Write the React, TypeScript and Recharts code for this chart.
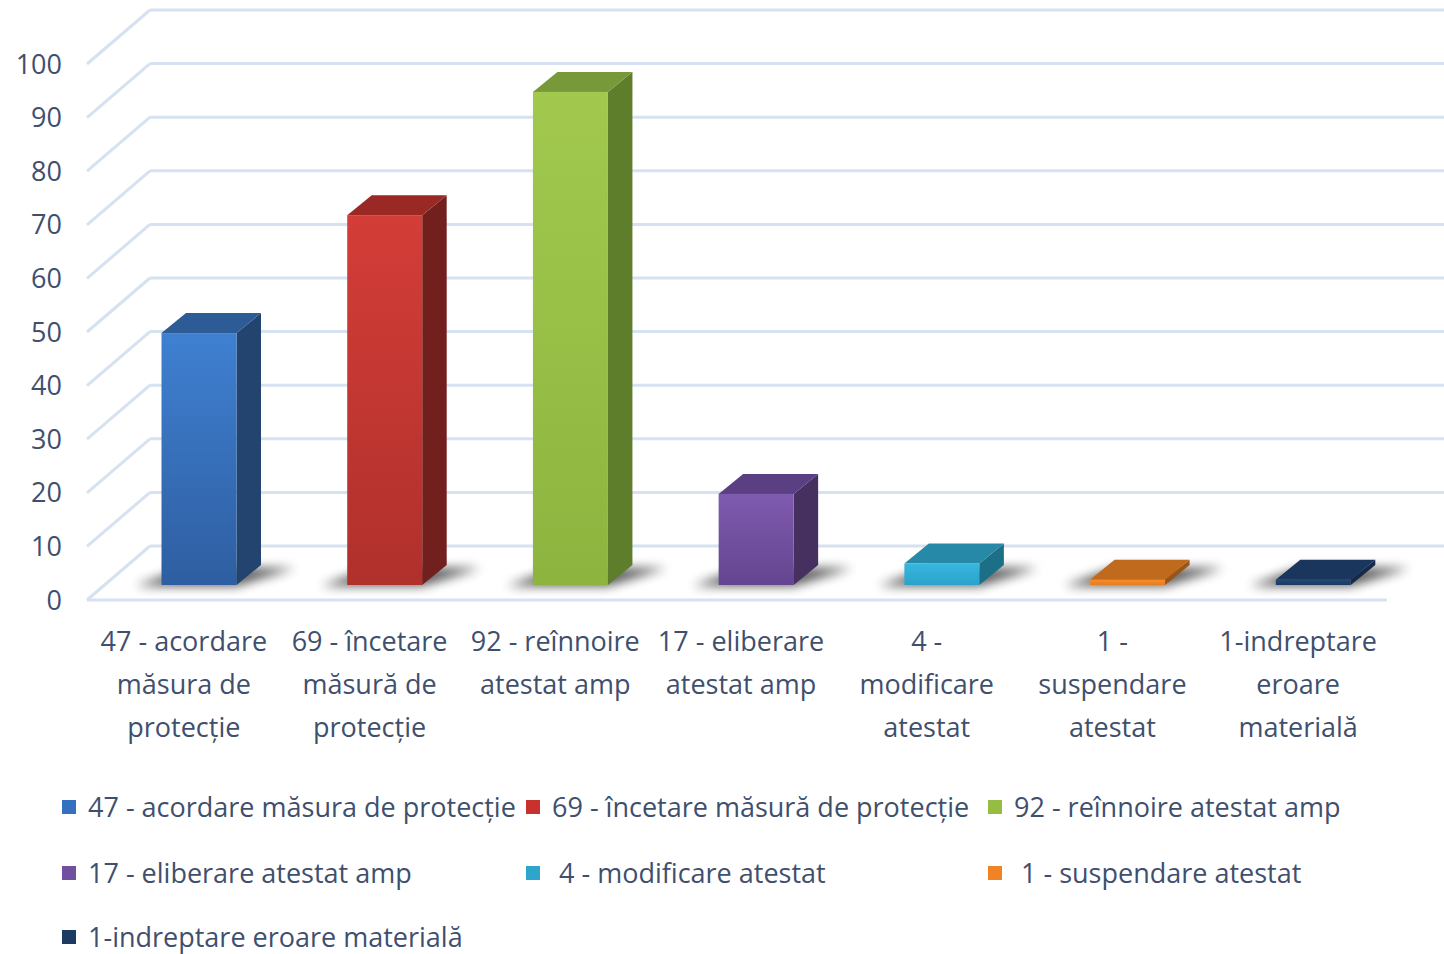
import React from 'react';
import { BarChart, Bar, XAxis, YAxis, CartesianGrid, Legend } from 'recharts';

// ---------- data ----------
const categories = [
  '47 - acordare măsura de protecție',
  '69 - încetare măsură de protecție',
  '92 - reînnoire atestat amp',
  '17 - eliberare atestat amp',
  ' 4 - modificare atestat',
  ' 1 - suspendare atestat',
  '1-indreptare eroare materială',
];
const values = [47, 69, 92, 17, 4, 1, 1];
const axisLabelLines = [
  ['47 - acordare', 'măsura de', 'protecție'],
  ['69 - încetare', 'măsură de', 'protecție'],
  ['92 - reînnoire', 'atestat amp'],
  ['17 - eliberare', 'atestat amp'],
  ['4 -', 'modificare', 'atestat'],
  ['1 -', 'suspendare', 'atestat'],
  ['1-indreptare', 'eroare', 'materială'],
];
const yTicks = [0, 10, 20, 30, 40, 50, 60, 70, 80, 90, 100];

// ---------- styles ----------
const palette = [
  { front: ['#3f80d1', '#2e5ea1'], top: '#2c5b96', side: '#23446f', legend: '#3470bf' },
  { front: ['#d43d38', '#b0302b'], top: '#9a2926', side: '#72201d', legend: '#c8312d' },
  { front: ['#a2c94e', '#8db43e'], top: '#77993a', side: '#5f7e2b', legend: '#94bd42' },
  { front: ['#7f5aaf', '#644590'], top: '#5b3f83', side: '#45305f', legend: '#7250a0' },
  { front: ['#38b7de', '#2aa3c9'], top: '#2589a7', side: '#1d6f88', legend: '#2ea6cc' },
  { front: ['#f68e2d', '#e47d20'], top: '#c06a1d', side: '#9a5417', legend: '#f08424' },
  { front: ['#244773', '#1c3a61'], top: '#1a365c', side: '#142a48', legend: '#1c3a62' },
];
const TEXT = '#3f4f6e';
const FONT = '"Open Sans", "Noto Sans", sans-serif';
const FS = 27;
const GRID = '#d6e2f1';

const W = 1444;
const H = 954;
const WALL_DX = 63;
const WALL_DY = 54;
const BAR_OFF_X = 19.5;
const BAR_OFF_Y = 15;
const BAR_DX = 24.5;
const BAR_DY = 20;
const PLOT_BOTTOM = 600;

const data = categories.map((name, i) => ({ name, value: values[i] }));

const gridLine = (props: any) => {
  const { x1, y1, x2, index } = props;
  const isFloor = Math.abs(y1 - PLOT_BOTTOM) < 1;
  return (
    <g key={'grid-' + index}>
      <line x1={x1} y1={y1} x2={x1 + WALL_DX} y2={y1 - WALL_DY} stroke={GRID} strokeWidth={3} />
      <line x1={x1 + WALL_DX} y1={y1 - WALL_DY} x2={x2 + WALL_DX} y2={y1 - WALL_DY} stroke={GRID} strokeWidth={3} />
      {isFloor ? <line x1={x1} y1={y1} x2={x2} y2={y1} stroke={GRID} strokeWidth={3} /> : null}
    </g>
  );
};

const Bar3D = (props: any) => {
  const { x, y, width, height, index } = props;
  const c = palette[index];
  const fx = x + BAR_OFF_X;
  const fy = y - BAR_OFF_Y;
  const w = width;
  const h = height;
  const fb = fy + h;
  const gid = 'barGrad' + index;
  const sid = 'barShadow' + index;
  const shadow = [
    [fx - 26, fb + 1],
    [fx + w, fb + 1],
    [fx + w + BAR_DX + 34, fb - BAR_DY + 3],
    [fx + BAR_DX, fb - BAR_DY + 3],
  ];
  const top = [
    [fx, fy],
    [fx + w, fy],
    [fx + w + BAR_DX, fy - BAR_DY],
    [fx + BAR_DX, fy - BAR_DY],
  ];
  const side = [
    [fx + w, fy],
    [fx + w + BAR_DX, fy - BAR_DY],
    [fx + w + BAR_DX, fb - BAR_DY],
    [fx + w, fb],
  ];
  const pts = (a: number[][]) => a.map((p) => p.join(',')).join(' ');
  return (
    <g>
      <defs>
        <linearGradient id={gid} x1="0" y1="0" x2="0" y2="1">
          <stop offset="0" stopColor={c.front[0]} />
          <stop offset="1" stopColor={c.front[1]} />
        </linearGradient>
        <filter id={sid} x="-50%" y="-200%" width="200%" height="500%">
          <feGaussianBlur stdDeviation="5.5" />
        </filter>
      </defs>
      <polygon points={pts(shadow)} fill="#000" opacity={0.65} filter={`url(#${sid})`} />
      <polygon points={pts(side)} fill={c.side} />
      <polygon points={pts(top)} fill={c.top} />
      <rect x={fx} y={fy} width={w} height={h} fill={`url(#${gid})`} />
    </g>
  );
};

const XTick = (props: any) => {
  const { x, y, index } = props;
  const lines = axisLabelLines[index] || [];
  return (
    <g>
      {lines.map((ln, i) => (
        <text
          key={i}
          x={x + 4}
          y={y + 42 + i * 43}
          dy="0.35em"
          textAnchor="middle"
          fill={TEXT}
          fontSize={FS}
          fontFamily={FONT}
        >
          {ln}
        </text>
      ))}
    </g>
  );
};

const legendCols = [62, 526, 988];
const legendRows = [33, 99, 163];

const LegendContent = () => (
  <div style={{ position: 'relative', width: W, height: 180 }}>
    {categories.map((name, i) => {
      const cx = legendCols[i % 3];
      const cy = legendRows[Math.floor(i / 3)];
      return (
        <div key={i}>
          <div
            style={{
              position: 'absolute',
              left: cx,
              top: cy - 7,
              width: 14,
              height: 14,
              background: palette[i].legend,
            }}
          />
          <div
            style={{
              position: 'absolute',
              left: cx + 26,
              top: cy - 20,
              height: 40,
              lineHeight: '40px',
              fontSize: FS,
              fontFamily: FONT,
              color: TEXT,
              whiteSpace: 'pre',
            }}
          >
            {name}
          </div>
        </div>
      );
    })}
  </div>
);

export default function App() {
  return (
    <div style={{ position: 'absolute', left: 0, top: 0, width: W, height: H, background: '#fff' }}>
      <BarChart
        width={W}
        height={H}
        data={data}
        margin={{ top: 64, right: 57, left: 17, bottom: 0 }}
        barSize={75}
      >
        <CartesianGrid vertical={false} horizontal={gridLine} />
        <XAxis
          dataKey="name"
          interval={0}
          tickLine={false}
          axisLine={false}
          tickSize={0}
          tickMargin={0}
          height={174}
          tick={<XTick />}
        />
        <YAxis
          domain={[0, 100]}
          ticks={yTicks}
          interval={0}
          width={70}
          tickLine={false}
          axisLine={false}
          tickSize={0}
          tickMargin={25}
          tick={{ fill: TEXT, fontSize: FS, fontFamily: FONT }}
        />
        <Legend
          verticalAlign="bottom"
          align="left"
          content={<LegendContent />}
          wrapperStyle={{ width: W, height: 180, left: 0 }}
        />
        <Bar dataKey="value" shape={<Bar3D />} isAnimationActive={false} />
      </BarChart>
    </div>
  );
}
